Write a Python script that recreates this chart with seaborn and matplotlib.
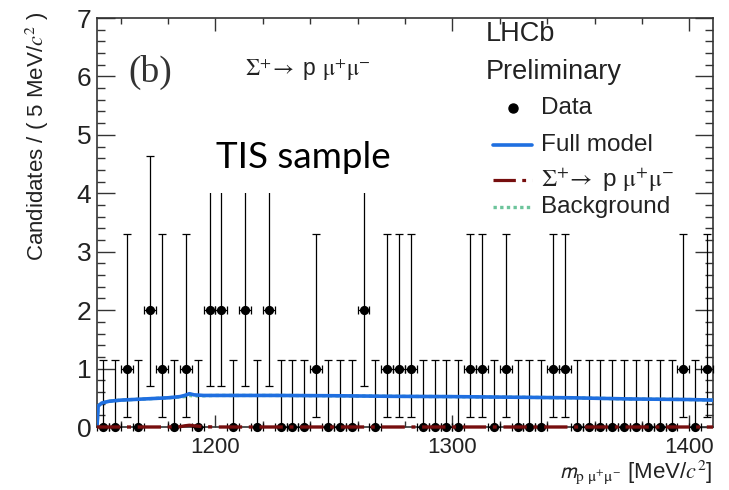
import numpy as np
import pandas as pd
import matplotlib
matplotlib.use("Agg")
import matplotlib.pyplot as plt
from matplotlib.lines import Line2D
from matplotlib.patches import Rectangle
from matplotlib.ticker import MultipleLocator, FixedLocator
import seaborn as sns

# ---------------- data ----------------
bin_lo = 1150.0
bin_width = 5.0
counts = [0, 0, 1, 0, 2, 1, 0, 1, 0, 2,
          2, 0, 2, 0, 2, 0, 0, 0, 1, 0,
          0, 0, 2, 0, 1, 1, 1, 0, 0, 0,
          0, 1, 1, 0, 1, 0, 0, 0, 1, 1,
          0, 0, 0, 0, 0, 0, 0, 0, 0, 1,
          0, 1]
# Poisson (ROOT-style) error bars by count
poisson_lo = {0: 0.0, 1: 0.827, 2: 1.292}
poisson_hi = {0: 1.148, 1: 2.299, 2: 2.638}

model_x = [1150, 1150.5, 1152, 1155, 1160, 1170, 1180, 1185, 1187, 1189,
           1191, 1195, 1200, 1225, 1250, 1275, 1300, 1325, 1350, 1375, 1400, 1410]
model_y = [0.0, 0.36, 0.41, 0.44, 0.46, 0.48, 0.50, 0.52, 0.54, 0.57,
           0.55, 0.54, 0.54, 0.54, 0.535, 0.525, 0.52, 0.51, 0.50, 0.48, 0.47, 0.46]
signal_y = [0.0, 0.0, 0.0, 0.0, 0.0, 0.0, 0.0, 0.005, 0.02, 0.03,
            0.02, 0.005, 0.0, 0.0, 0.0, 0.0, 0.0, 0.0, 0.0, 0.0, 0.0, 0.0]
bkg_y = [0.0, 0.36, 0.41, 0.44, 0.46, 0.48, 0.50, 0.515, 0.52, 0.54,
         0.53, 0.535, 0.54, 0.54, 0.535, 0.525, 0.52, 0.51, 0.50, 0.48, 0.47, 0.46]

x_range = (1150, 1410)
y_range = (0, 7)
x_tick_labels = [1200, 1300, 1400]

# ---------------- style ----------------
sns.set_theme(style="ticks")
plt.rcParams['font.family'] = ['Liberation Sans', 'DejaVu Sans']
plt.rcParams['mathtext.fontset'] = 'stix'

W, H = 729, 490
fig = plt.figure(figsize=(W / 100, H / 100), dpi=100)
fig.patch.set_facecolor('white')

def fx(x):
    return x / W

def fy(y):
    return 1 - y / H

ax = fig.add_axes([fx(97), fy(427), fx(713) - fx(97), fy(18) - fy(427)])
ax.set_facecolor('white')

centers = bin_lo + bin_width * (np.arange(len(counts)) + 0.5)
df = pd.DataFrame({"m": centers, "n": counts})
lo = [poisson_lo[c] for c in counts]
hi = [poisson_hi[c] for c in counts]

curves = pd.DataFrame({"m": model_x, "model": model_y, "signal": signal_y, "bkg": bkg_y})

RED = "#760e0e"
BLUE = "#1f6fe0"
GREEN = "#6cc49b"
RED_LS = (0, (7, 2, 1.2, 2))

sns.lineplot(data=curves, x="m", y="bkg", ax=ax, color=GREEN, lw=2.4,
             linestyle=(0, (1, 1)), zorder=3)

eb = ax.errorbar(df["m"], df["n"], yerr=[lo, hi], xerr=bin_width / 2, fmt='none',
                 ecolor='black', elinewidth=0.9, capsize=3.2, capthick=0.9, zorder=4)
for part in eb.lines[1] + eb.lines[2]:
    part.set_clip_on(False)
sns.scatterplot(data=df, x="m", y="n", ax=ax, color='black', s=44,
                edgecolor='black', linewidth=0, zorder=5, clip_on=False)

sns.lineplot(data=curves, x="m", y="model", ax=ax, color=BLUE, lw=2.6, zorder=6)
sns.lineplot(data=curves, x="m", y="signal", ax=ax, color=RED, lw=2.4,
             linestyle=RED_LS, zorder=7)
ax.lines[-1].set_clip_on(False)

ax.set_xlim(*x_range)
ax.set_ylim(*y_range)
ax.set_xlabel("")
ax.set_ylabel("")

ax.xaxis.set_major_locator(FixedLocator(x_tick_labels))
ax.xaxis.set_minor_locator(MultipleLocator(20))
ax.yaxis.set_major_locator(MultipleLocator(1))
ax.yaxis.set_minor_locator(MultipleLocator(0.2))

ax.tick_params(which='both', direction='in', top=True, right=True, color='#333333', width=1.0)
ax.tick_params(axis='y', which='major', length=13, labelsize=19, pad=4, labelcolor='#222222')
ax.tick_params(axis='y', which='minor', length=6)
ax.tick_params(axis='x', which='major', length=9, labelsize=16, pad=7, labelcolor='#222222')
ax.tick_params(axis='x', which='minor', length=4.5)
for s in ax.spines.values():
    s.set_color('#333333')
    s.set_linewidth(1.2)

# axis labels
fig.text(fx(37), fy(12), r"Candidates / ( 5 MeV/$\mathit{c}^{2}$ )", rotation=90,
         ha='center', va='top', fontsize=16, color='#222222')
fig.text(fx(713), fy(472), r"$\mathsf{m}_{\mathrm{p}\ \mathrm{\mu}^{+}\mathrm{\mu}^{-}}$ [MeV/$\mathit{c}^{2}$]",
         ha='right', va='center', fontsize=16, color='#222222')

# annotations
fig.text(fx(128), fy(72), "(b)", family=['Liberation Serif', 'DejaVu Serif'],
         fontsize=27, ha='left', va='center', color='#333333')
fig.text(fx(245), fy(70), r"$\Sigma^{+}\!\rightarrow$ p $\mathrm{\mu}^{+}\mathrm{\mu}^{-}$",
         fontsize=16.5, ha='left', va='center', color='#222222')
fig.add_artist(Rectangle((fx(204), fy(193)), fx(408) - fx(204), fy(128) - fy(193),
                         transform=fig.transFigure, facecolor='white', edgecolor='none',
                         zorder=15))
fig.text(fx(303), fy(158), "TIS sample", family=['Lato', 'DejaVu Sans'], fontsize=26.5,
         ha='center', va='center', color='black', zorder=20)

# legend block
fig.text(fx(486), fy(34), "LHCb", fontsize=19.5, ha='left', va='center', color='#222222')
fig.text(fx(486), fy(72), "Preliminary", fontsize=19.5, ha='left', va='center', color='#222222')
entries_y = [108, 145, 180, 207]
labels = ["Data", "Full model", r"$\Sigma^{+}\!\rightarrow$ p $\mathrm{\mu}^{+}\mathrm{\mu}^{-}$", "Background"]
for yy, lab in zip(entries_y, labels):
    fig.text(fx(541), fy(yy), lab, fontsize=17.5, ha='left', va='center', color='#222222')
fig.add_artist(Line2D([fx(513)], [fy(108)], marker='o', color='black', markersize=6.5, lw=0))
fig.add_artist(Line2D([fx(493), fx(532)], [fy(145)] * 2, color=BLUE, lw=2.6))
fig.add_artist(Line2D([fx(493), fx(532)], [fy(180)] * 2, color=RED, lw=2.3,
                      linestyle=RED_LS))
fig.add_artist(Line2D([fx(493), fx(532)], [fy(207)] * 2, color=GREEN, lw=2.4,
                      linestyle=(0, (1, 1))))

fig.savefig("out.png", dpi=100, facecolor='white')
